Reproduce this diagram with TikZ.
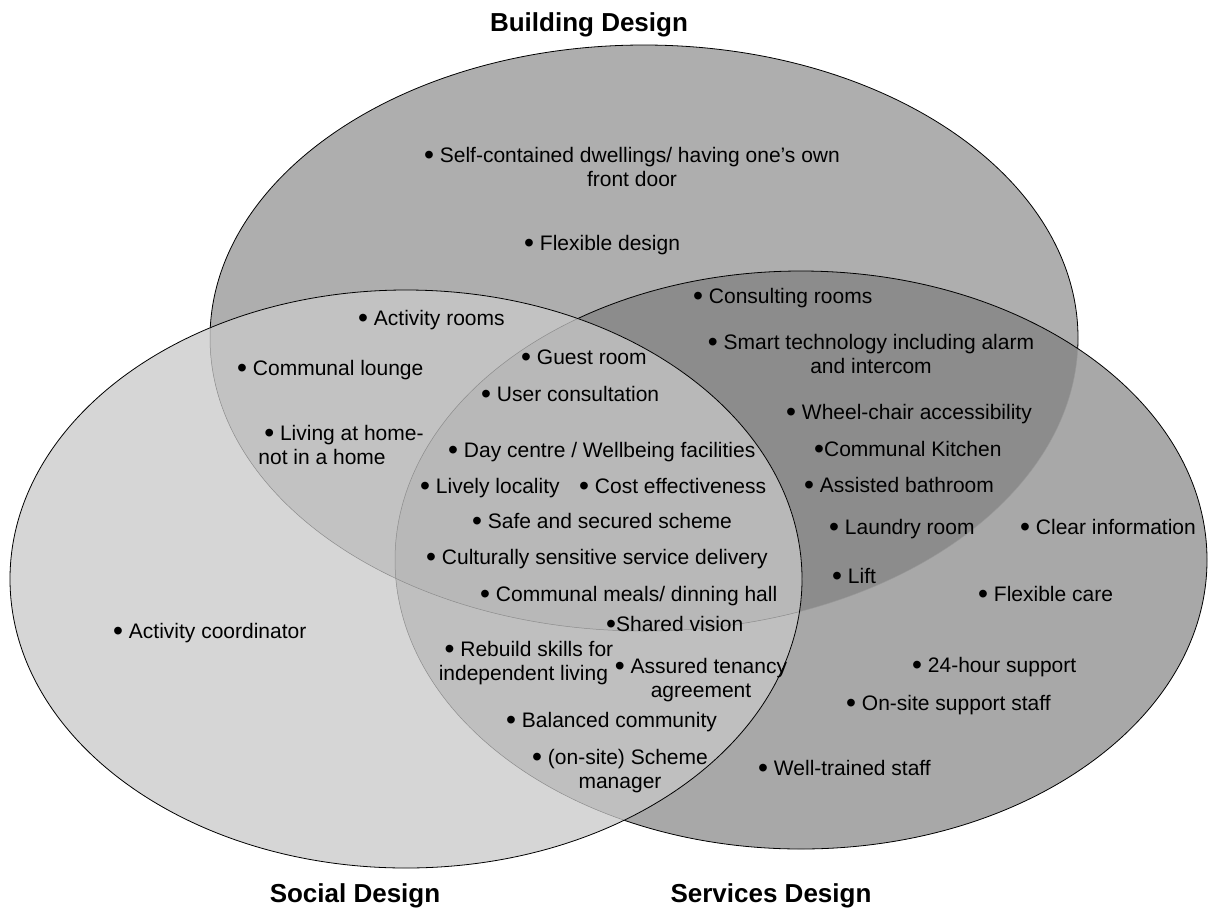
\documentclass[tikz,border=0pt]{standalone}
\usepackage{graphicx}
\usepackage{fontspec}
\setmainfont{Liberation Sans}
\definecolor{cB}{RGB}{174,174,174}
\definecolor{cSv}{RGB}{168,168,168}
\definecolor{cBSv}{RGB}{140,140,140}
\definecolor{cS}{RGB}{214,214,214}
\definecolor{cSB}{RGB}{194,194,194}
\definecolor{cSSv}{RGB}{191,191,191}
\definecolor{cAll}{RGB}{184,184,184}
\newcommand{\vbul}{\raisebox{-0.1em}{\scalebox{1.35}{•}}}
\def\ellB{(644pt,-338pt) ellipse [x radius=434pt, y radius=293pt]}
\def\ellS{(406pt,-579pt) ellipse [x radius=396pt, y radius=289pt]}
\def\ellSv{(801pt,-560pt) ellipse [x radius=406pt, y radius=289pt]}
\begin{document}
\begin{tikzpicture}[x=1pt,y=-1pt,
  item/.style={anchor=base west, inner sep=0pt, font=\fontsize{21}{24}\selectfont},
  block/.style={anchor=center, inner sep=0pt, align=center, font=\fontsize{21}{24}\selectfont},
  blockl/.style={anchor=center, inner sep=0pt, align=left, font=\fontsize{21}{24}\selectfont},
  titletext/.style={anchor=center, inner sep=0pt, font=\fontsize{26}{30}\selectfont\bfseries},
  outline/.style={draw=black, line width=0.8pt},
  hidden/.style={draw=black!45, line width=0.5pt},
  faint/.style={draw=black!40, line width=0.4pt}]
\useasboundingbox (0,0) rectangle (1209,911);
% Building
\fill[cB] \ellB;
\draw[outline] \ellB;
% Services
\fill[cSv] \ellSv;
\begin{scope}
  \clip \ellB;
  \fill[cBSv] \ellSv;
\end{scope}
\begin{scope}
  \clip \ellSv;
  \draw[faint] \ellB;
\end{scope}
\draw[outline] \ellSv;
% Social
\fill[cS] \ellS;
\begin{scope}
  \clip \ellS;
  \fill[cSB] \ellB;
  \fill[cSSv] \ellSv;
  \begin{scope}
    \clip \ellB;
    \fill[cAll] \ellSv;
  \end{scope}
  \draw[hidden] \ellB;
  \draw[hidden] \ellSv;
\end{scope}
\draw[outline] \ellS;

% titles
\node[titletext] (tB) at (589,25) {Building Design};
\node[titletext] (tS) at (355,896) {Social Design};
\node[titletext] (tSv) at (771,896) {Services Design};

% Building only
\node[block] (selfc) at (632,167) {\vbul{} Self-contained dwellings/ having one’s own\\front door};
\node[item] (flexd) at (524,250.5) {\vbul{} Flexible design};
% Building & Social
\node[item] (actr) at (358,325.5) {\vbul{} Activity rooms};
\node[item] (cloun) at (237,375.5) {\vbul{} Communal lounge};
\node[blockl] (livh) at (341,445) {\ \vbul{} Living at home-\\not in a home};
% Building & Services
\node[item] (consr) at (693,303.5) {\vbul{} Consulting rooms};
\node[block] (smart) at (871,354) {\vbul{} Smart technology including alarm\\and intercom};
\node[item] (wheel) at (786,419.5) {\vbul{} Wheel-chair accessibility};
\node[item] (ckit) at (814,456.5) {\vbul{}Communal Kitchen};
\node[item] (abath) at (804,492.5) {\vbul{} Assisted bathroom};
\node[item] (laund) at (829,534.5) {\vbul{} Laundry room};
\node[item] (lift) at (832,583.5) {\vbul{} Lift};
% all three
\node[item] (guest) at (521,364.5) {\vbul{} Guest room};
\node[item] (userc) at (481,401.5) {\vbul{} User consultation};
\node[item] (dayc) at (448,457.5) {\vbul{} Day centre / Wellbeing facilities};
\node[item] (lively) at (420,493.5) {\vbul{} Lively locality};
\node[item] (coste) at (579,493.5) {\vbul{} Cost effectiveness};
\node[item] (safe) at (472,528.5) {\vbul{} Safe and secured scheme};
\node[item] (cult) at (426,564.5) {\vbul{} Culturally sensitive service delivery};
\node[item] (meals) at (480,601.5) {\vbul{} Communal meals/ dinning hall};
% Social & Services
\node[item] (shared) at (606,631.5) {\vbul{}Shared vision};
\node[blockl] (rebuild) at (526,663) {\ \vbul{} Rebuild skills for\\independent living};
\node[block] (assur) at (701,680) {\vbul{} Assured tenancy\\agreement};
\node[item] (balc) at (506,727.5) {\vbul{} Balanced community};
\node[block] (schm) at (620,771) {\vbul{} (on-site) Scheme\\manager};
% Services only
\node[item] (clear) at (1020,534.5) {\vbul{} Clear information};
\node[item] (flexc) at (978,601.5) {\vbul{} Flexible care};
\node[item] (h24) at (912,672.5) {\vbul{} 24-hour support};
\node[item] (onsite) at (846,710.5) {\vbul{} On-site support staff};
\node[item] (welltr) at (758,775.5) {\vbul{} Well-trained staff};
% Social only
\node[item] (actco) at (113,638.5) {\vbul{} Activity coordinator};
\end{tikzpicture}
\end{document}
